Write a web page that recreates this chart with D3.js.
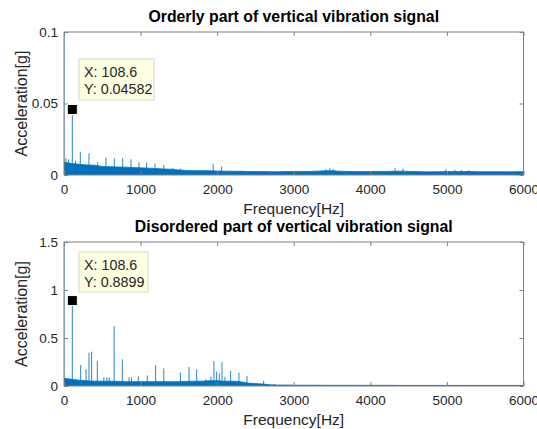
<!DOCTYPE html>
<html>
<head>
<meta charset="utf-8">
<script src="https://cdn.jsdelivr.net/npm/d3@7"></script>
<style>
  html, body { margin: 0; padding: 0; background: #fff; }
  svg { display: block; font-family: "Liberation Sans", Arial, Helvetica, sans-serif; }
</style>
</head>
<body>
<svg id="chart" width="537" height="429"></svg>
<script>
// ---- Shared axis settings ----
const freqTicks = [0, 1000, 2000, 3000, 4000, 5000, 6000];
const freqTickLabels = ["0", "1000", "2000", "3000", "4000", "5000", "6000"];

// ---- Orderly part: broadband floor envelope (every 100 Hz) ----
const orderlyBandFreq = [0,100,200,300,400,500,600,700,800,900,1000,1100,1200,1300,1400,1500,1600,1700,1800,1900,2000,2100,2200,2300,2400,2500,2600,2700,2800,2900,3000,3100,3200,3300,3400,3500,3600,3700,3800,3900,4000,4100,4200,4300,4400,4500,4600,4700,4800,4900,5000,5100,5200,5300,5400,5500,5600,5700,5800,5900,6000];
const orderlyBandAmp = [0.009,0.008,0.0075,0.007,0.0068,0.006,0.0058,0.0056,0.0055,0.0052,0.005,0.0048,0.0045,0.0042,0.004,0.0035,0.0032,0.003,0.003,0.003,0.0028,0.0027,0.0026,0.0026,0.0025,0.0024,0.0024,0.0023,0.0023,0.0024,0.0024,0.0024,0.0025,0.0027,0.0029,0.003,0.0027,0.0025,0.0024,0.0024,0.0024,0.0025,0.0025,0.0026,0.0027,0.0025,0.0024,0.0022,0.0022,0.0023,0.0024,0.0024,0.0024,0.0024,0.0023,0.0023,0.0023,0.0023,0.0022,0.0023,0.0023];
// ---- Orderly part: discrete spectral lines ----
const orderlyPeakFreq = [0, 26, 60, 108.6, 150, 213, 326, 440, 548, 657, 766, 875, 979, 1079, 1188, 1303, 1420, 1520, 1948, 2058, 3420, 3472, 3520, 4321, 4426, 4987, 5104, 5192, 5287];
const orderlyPeakAmp = [0.1, 0.0117, 0.011, 0.04582, 0.010, 0.0163, 0.0152, 0.009, 0.0121, 0.0117, 0.0117, 0.011, 0.0089, 0.0086, 0.008, 0.007, 0.005, 0.0045, 0.0075, 0.0058, 0.004, 0.0047, 0.0042, 0.0047, 0.0045, 0.004, 0.0036, 0.0035, 0.0034];
const orderlyYTicks = [0, 0.05, 0.1];
const orderlyYTickLabels = ["0", "0.05", "0.1"];

// ---- Disordered part: broadband floor envelope (every 100 Hz) ----
const disorderedBandFreq = orderlyBandFreq;
const disorderedBandAmp = [0.08,0.07,0.06,0.055,0.05,0.05,0.05,0.048,0.045,0.045,0.045,0.045,0.045,0.045,0.045,0.045,0.048,0.05,0.05,0.055,0.055,0.05,0.05,0.045,0.03,0.025,0.02,0.012,0.01,0.01,0.008,0.008,0.008,0.008,0.007,0.007,0.007,0.007,0.007,0.007,0.007,0.007,0.007,0.007,0.006,0.006,0.006,0.006,0.006,0.006,0.006,0.006,0.006,0.006,0.006,0.006,0.006,0.006,0.006,0.006,0.006];
// ---- Disordered part: discrete spectral lines ----
const disorderedPeakFreq = [0, 108.6, 218, 287, 326, 361, 435, 520, 560, 591, 655, 761, 850, 880, 970, 1088, 1197, 1303, 1520, 1632, 1732, 1850, 1919, 1958, 1993, 2028, 2063, 2102, 2176, 2284, 2389, 2607, 2750];
const disorderedPeakAmp = [1.5, 0.8899, 0.219, 0.174, 0.347, 0.357, 0.26, 0.09, 0.09, 0.09, 0.625, 0.278, 0.09, 0.09, 0.1, 0.11, 0.217, 0.184, 0.139, 0.198, 0.174, 0.07, 0.097, 0.26, 0.149, 0.132, 0.25, 0.097, 0.158, 0.139, 0.105, 0.053, 0.02];
const disorderedYTicks = [0, 0.5, 1, 1.5];
const disorderedYTickLabels = ["0", "0.5", "1", "1.5"];

const panels = [
  {
    title: "Orderly part of vertical vibration signal",
    top: 32, bottom: 175, yMax: 0.1,
    bandFreq: orderlyBandFreq, bandAmp: orderlyBandAmp,
    peakFreq: orderlyPeakFreq, peakAmp: orderlyPeakAmp,
    yTicks: orderlyYTicks, yTickLabels: orderlyYTickLabels,
    tip: { freq: 108.6, amp: 0.04582, xText: "X: 108.6", yText: "Y: 0.04582", boxX: 79, boxY: 59, boxW: 75, boxH: 41 }
  },
  {
    title: "Disordered part of vertical vibration signal",
    top: 242, bottom: 386, yMax: 1.5,
    bandFreq: disorderedBandFreq, bandAmp: disorderedBandAmp,
    peakFreq: disorderedPeakFreq, peakAmp: disorderedPeakAmp,
    yTicks: disorderedYTicks, yTickLabels: disorderedYTickLabels,
    tip: { freq: 108.6, amp: 0.8899, xText: "X: 108.6", yText: "Y: 0.8899", boxX: 79, boxY: 252, boxW: 69, boxH: 40 }
  }
];

const left = 64, right = 523.5;
const lineColor = "#0072BD";
const axisColor = "#808080";
const textColor = "#262626";

const svg = d3.select("#chart");

panels.forEach((p, i) => {
  const x = d3.scaleLinear().domain([0, 6000]).range([left, right]);
  const y = d3.scaleLinear().domain([0, p.yMax]).range([p.bottom, p.top]);
  const g = svg.append("g");

  const clipId = "clip" + i;
  svg.append("clipPath").attr("id", clipId)
    .append("rect").attr("x", left).attr("y", p.top)
    .attr("width", right - left).attr("height", p.bottom - p.top);

  const plot = g.append("g").attr("clip-path", `url(#${clipId})`);

  // broadband floor
  const band = p.bandFreq.map((f, k) => [f, p.bandAmp[k]]);
  plot.append("path")
    .datum(band)
    .attr("fill", lineColor)
    .attr("stroke", lineColor)
    .attr("stroke-width", 0.8)
    .attr("d", d3.area().x(d => x(d[0])).y0(y(0)).y1(d => y(d[1])));

  // spectral lines
  plot.selectAll("line.peak")
    .data(p.peakFreq.map((f, k) => [f, p.peakAmp[k]]))
    .join("line")
    .attr("class", "peak")
    .attr("x1", d => x(d[0])).attr("x2", d => x(d[0]))
    .attr("y1", y(0)).attr("y2", d => y(d[1]))
    .attr("stroke", lineColor)
    .attr("stroke-opacity", 0.85)
    .attr("stroke-width", 1);

  // axes with inward ticks on all four sides
  const fmtX = d => freqTickLabels[freqTicks.indexOf(d)];
  const fmtY = d => p.yTickLabels[p.yTicks.indexOf(d)];

  const xAxis = g.append("g").attr("transform", `translate(0,${p.bottom})`)
    .call(d3.axisBottom(x).tickValues(freqTicks).tickFormat(fmtX)
      .tickSizeInner(-4).tickSizeOuter(0).tickPadding(9));
  const xAxisTop = g.append("g").attr("transform", `translate(0,${p.top})`)
    .call(d3.axisTop(x).tickValues(freqTicks).tickFormat("")
      .tickSizeInner(-4).tickSizeOuter(0));
  const yAxis = g.append("g").attr("transform", `translate(${left},0)`)
    .call(d3.axisLeft(y).tickValues(p.yTicks).tickFormat(fmtY)
      .tickSizeInner(-4).tickSizeOuter(0).tickPadding(6));
  const yAxisRight = g.append("g").attr("transform", `translate(${right},0)`)
    .call(d3.axisRight(y).tickValues(p.yTicks).tickFormat("")
      .tickSizeInner(-4).tickSizeOuter(0));

  [xAxis, xAxisTop, yAxis, yAxisRight].forEach(a => {
    a.select(".domain").remove();
    a.selectAll(".tick line").attr("stroke", axisColor);
    a.selectAll(".tick text")
      .attr("fill", textColor)
      .style("font-size", "13.5px")
      .style("font-family", "'Liberation Sans', Arial, sans-serif");
  });

  // axes box
  g.append("rect")
    .attr("x", left).attr("y", p.top)
    .attr("width", right - left).attr("height", p.bottom - p.top)
    .attr("fill", "none").attr("stroke", axisColor).attr("stroke-width", 1);

  // title
  g.append("text")
    .attr("x", (left + right) / 2).attr("y", p.top - 10)
    .attr("text-anchor", "middle")
    .attr("fill", "#000")
    .style("font-size", "15.8px").style("font-weight", "bold")
    .text(p.title);

  // x label
  g.append("text")
    .attr("x", (left + right) / 2).attr("y", p.bottom + 39)
    .attr("text-anchor", "middle")
    .attr("fill", textColor)
    .style("font-size", "15.5px")
    .text("Frequency[Hz]");

  // y label
  g.append("text")
    .attr("transform", `translate(26.5,${(p.top + p.bottom) / 2}) rotate(-90)`)
    .attr("text-anchor", "middle")
    .attr("fill", textColor)
    .style("font-size", "16px")
    .text("Acceleration[g]");

  // data tip
  const t = p.tip;
  g.append("rect")
    .attr("x", t.boxX).attr("y", t.boxY)
    .attr("width", t.boxW).attr("height", t.boxH)
    .attr("fill", "#ffffe1").attr("stroke", "#d8d8c8").attr("stroke-width", 1);
  g.append("text")
    .attr("x", t.boxX + 5).attr("y", t.boxY + 18)
    .attr("fill", textColor).style("font-size", "14.3px")
    .text(t.xText);
  g.append("text")
    .attr("x", t.boxX + 5).attr("y", t.boxY + 35)
    .attr("fill", textColor).style("font-size", "14.3px")
    .text(t.yText);
  g.append("rect")
    .attr("x", x(t.freq) - 5).attr("y", y(t.amp) - 5)
    .attr("width", 10).attr("height", 10)
    .attr("fill", "#000").attr("stroke", "#ffffe1").attr("stroke-width", 1);
});
</script>
</body>
</html>
